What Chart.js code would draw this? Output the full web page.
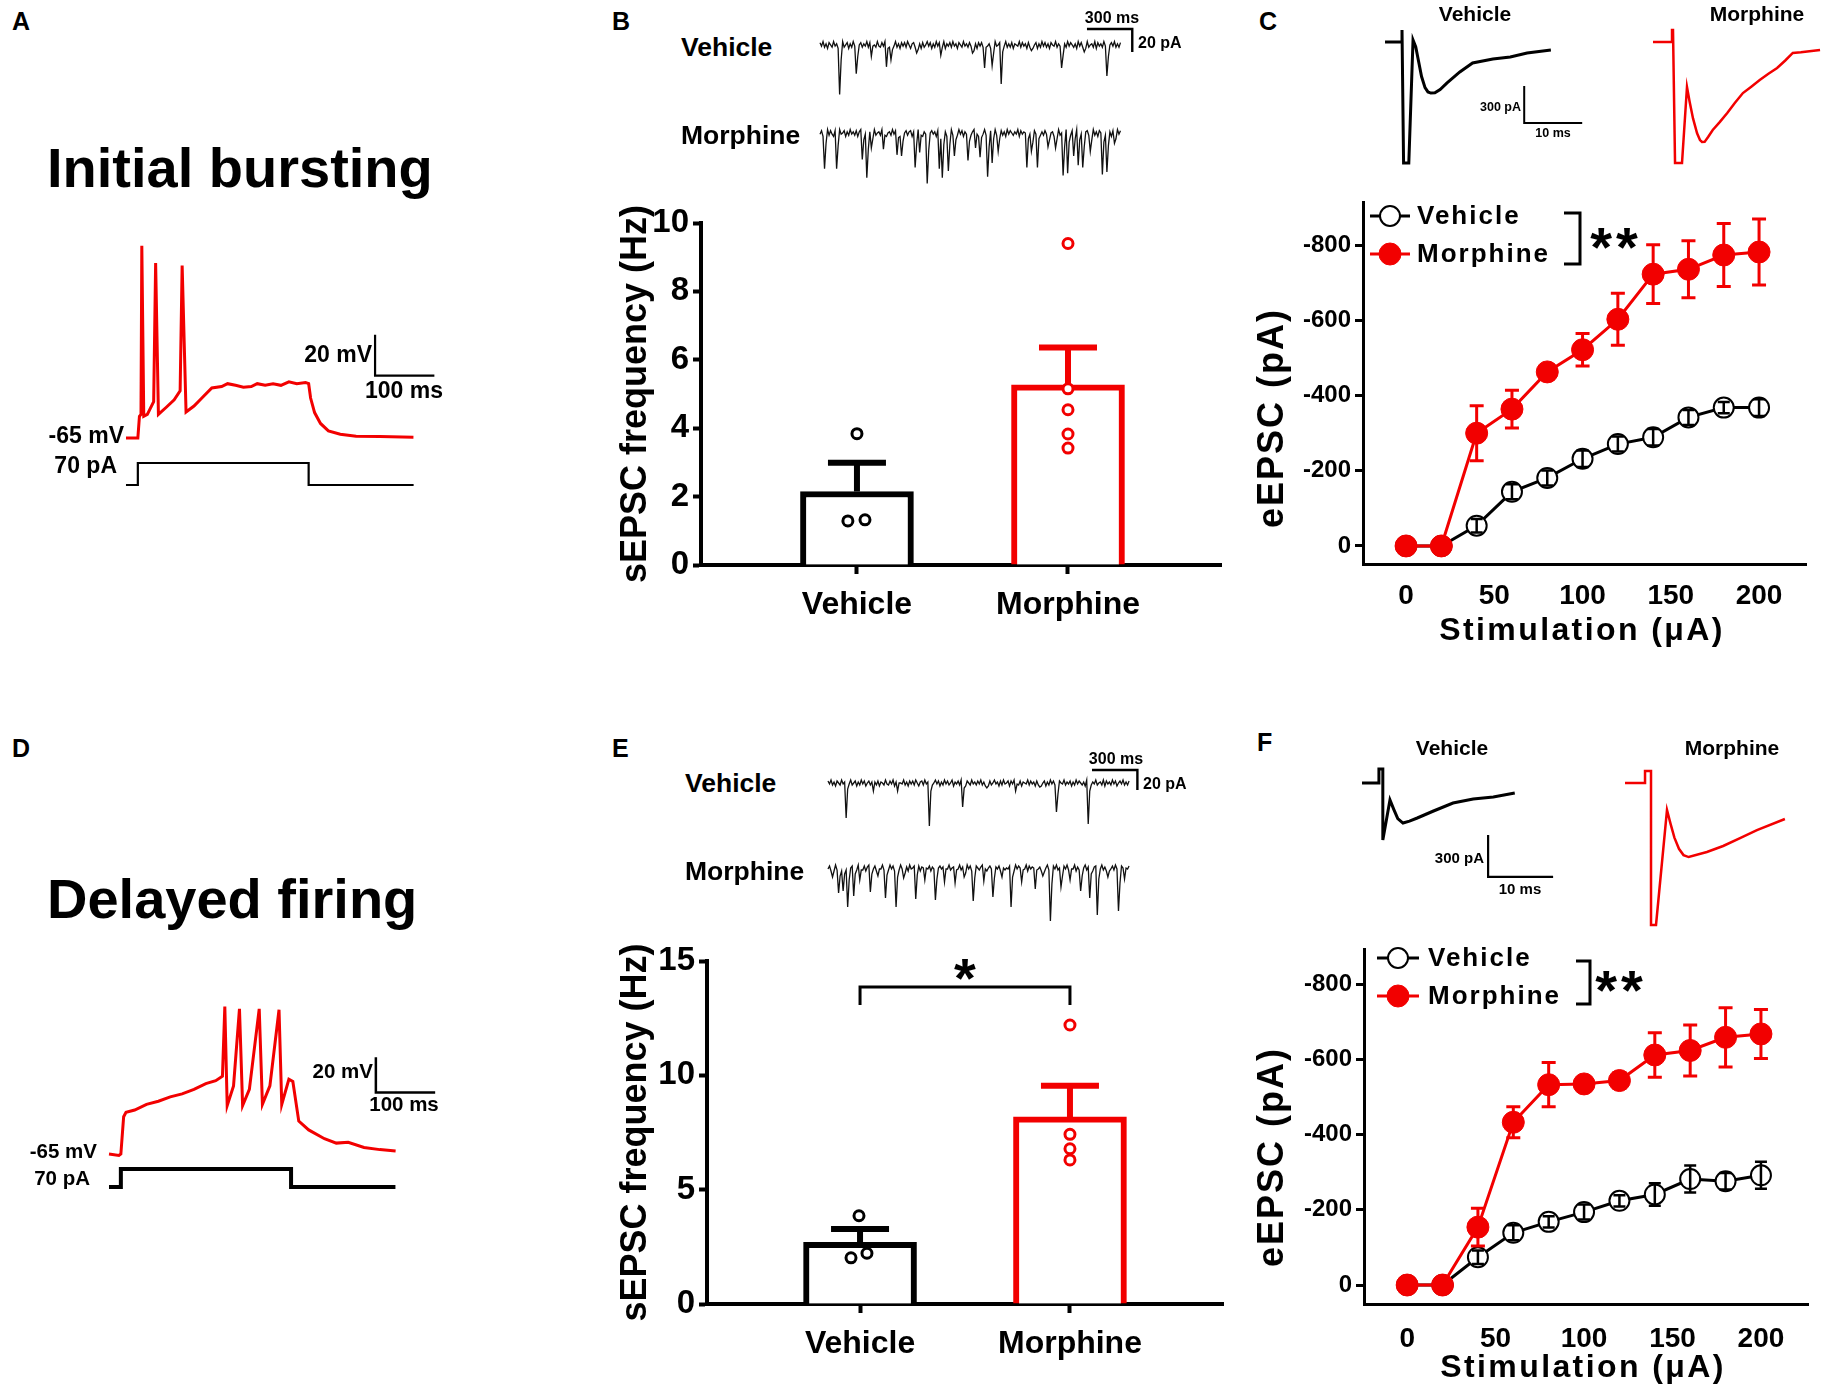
<!DOCTYPE html>
<html lang="en">
<head>
<meta charset="UTF-8">
<title>sEPSC / eEPSC after morphine</title>
<script src="https://cdn.jsdelivr.net/npm/chart.js@4.4.1/dist/chart.umd.min.js"></script>
<style>
  body { margin: 0; background: #fff; }
  #page { position: relative; width: 1845px; height: 1396px; overflow: hidden; background: #fff;
          font-family: 'Liberation Sans', Arial, sans-serif; font-weight: bold; color: #000; }
  #page canvas { position: absolute; }
  .lbl { position: absolute; white-space: nowrap; line-height: 1; }
</style>
</head>
<body>
<div id="page"></div>
<script>
// ---------------- data ----------------
const RED = '#f20000';

// A : initial bursting, membrane potential (ms, mV) and injected current (ms, pA)
const burstT = [0, 20, 22.7, 25.3, 26.7, 30, 36, 46.7, 50, 54.7, 68, 81.3, 91.3, 94.7, 101.3, 114.7, 128, 144.7, 161.3, 171.3,
                184.7, 198, 211.3, 221.3, 234.7, 248, 261.3, 274.7, 288, 302.7, 308, 311.3, 318, 328, 341.3, 361.3, 388, 428, 484.7];
const burstV = [-65, -65, -54.4, -53.5, 28.8, -54.4, -53.5, -47.3, 20.3, -53.5, -50, -46.4, -42, 19.1, -52.3, -49.4, -45.5, -40.6, -39.9, -38.5,
                -39.3, -40.2, -39.9, -38.5, -39.3, -38.5, -39.3, -37.6, -38.5, -37.9, -38.5, -45.5, -52.6, -57.9, -61.5, -63.2, -64.1, -64.3, -64.6];
const stepA_T = [0, 20, 20, 308, 308, 485];
const stepA_I = [0, 0, 70, 70, 0, 0];

// D : delayed firing
const delayT = [0, 16.7, 20, 24.7, 28.7, 43.3, 63.3, 83.3, 103.3, 123.3, 143.3, 163.3, 180, 191.3, 195.3, 199.3, 210, 220, 225.3, 236.7,
                253.3, 258.7, 271.3, 286.7, 291.3, 303.3, 310, 320, 336.7, 363.3, 383.3, 403.3, 430, 456.7, 483.3];
const delayV = [-65, -65.8, -65, -43.8, -41.3, -40, -36.8, -35, -32.5, -30.8, -28.3, -25, -23.3, -20.8, 18.8, -37.5, -26.3, 17.5, -37.5, -28.3,
                17.5, -36.8, -26.3, 17, -36.8, -22.5, -23.8, -46.3, -51.3, -56.3, -58.8, -58.3, -61.3, -62.5, -63.3];
const stepD_T = [0, 20, 20, 307, 307, 483];
const stepD_I = [0, 0, 70, 70, 0, 0];

// B / E : sEPSC recordings, pA, one sample every 10 ms
// baseline noise of the recordings
const noiseA = [2, -1, 3, -2, 1, -3, 2, 0, -2, 3, -1, 1, -3, 2, -1, 3, -2, 0, 2, -3,
                1, -2, 3, -1, 2, -3, 0, 2, -2, 1, -1, 3, -2, 2, -3, 1, 0, -2, 3, -1,
                -2, 2, -1, 3, -3, 1, -2, 2, 0, -1, 3, -2, 1, -3, 2, -1, 2, -2, 3, 0,
                -3, 1, 2, -2, 3, -1, 1, -3, 2, -2, 0, 3, -1, 2, -3, 1, -2, 3, -1, 2,
                -2, 0, 3, -3, 1, -1, 2, -2, 3, -1, 1, -3, 2, 0, -2, 3, -1, 1, -2, 2,
                -1, 3, -2, 1, -3, 2, -1, 2, -2, 0, 3, -1, 1, -3, 2, -2, 3, -1, 0, 2,
                -3, 2, -1, 3, -2, 1, -2, 2, -3, 1, 0, -1, 3, -2, 2, -1, 1, -3, 2, -2,
                3, -1, 0, 2, -3, 1, -2, 3, -1, 2, -2, 1, -3, 2, 0, -1, 3, -2, 1, -1,
                2, -3, 1, -2, 3, -1, 2, 0, -2, 1, -3, 3, -1, 2, -2, 1, -1, 3, -2, 0,
                1, -2, 3, -3, 2, -1, 1, -2, 3, -1, 2, -3, 0, 2, -1, 3, -2, 1, -2, 2];
const noiseB = [-1, 2, -3, 1, 0, 3, -2, 2, -1, -3, 2, 1, -2, 3, -1, 0, 2, -3, 1, -2,
                3, -1, 1, -2, 2, -3, 1, 3, -2, 0, -1, 2, -3, 1, 2, -1, 3, -2, 0, 1,
                -2, 3, -1, 2, -3, 0, 1, -2, 3, -1, 2, -2, 1, -3, 3, -1, 0, 2, -2, 1,
                2, -3, 1, 0, -2, 3, -1, 2, -3, 1, -1, 3, -2, 0, 2, -1, 1, -3, 2, -1,
                3, -2, 0, 1, -3, 2, -1, 3, -2, 1, 0, -2, 3, -1, 2, -3, 1, -1, 2, 0,
                -2, 1, 3, -1, 2, -3, 0, 2, -1, 3, -2, 1, -1, 2, -3, 1, 3, -2, 0, -1,
                2, -2, 1, -3, 3, -1, 2, 0, -2, 1, -1, 3, -3, 2, -1, 1, 0, -2, 3, -1,
                1, -3, 2, -1, 0, 3, -2, 1, -2, 2, -1, 3, -2, 0, 1, -3, 2, -1, 3, -2,
                0, 2, -1, 3, -3, 1, -2, 2, -1, 0, 3, -2, 1, -1, 2, -3, 1, 2, -2, 1,
                -1, 3, -2, 1, -3, 2, 0, -1, 2, -2, 3, -1, 1, -3, 2, 0, -2, 3, -1, 2];
// synaptic events: [sample, peak amplitude, amplitude on next sample] (pA)
const evB_veh = [[13, 45, 12], [24, 27, 7], [34, 7, 2], [44, 16, 4], [47, 15, 4], [64, 10, 3], [80, 7, 2], [101, 10, 3],
                 [109, 20, 5], [114, 20, 5], [120, 31, 8], [140, 8, 2], [160, 22, 6], [175, 7, 2], [190, 29, 7]];
const evB_mor = [[3, 32, 9], [11, 32, 9], [28, 21, 6], [31, 41, 11], [34, 15, 4], [42, 13, 4], [51, 17, 5], [54, 23, 6],
                 [63, 30, 8], [66, 16, 4], [71, 47, 13], [79, 30, 8], [81, 37, 10], [85, 35, 9], [89, 21, 6], [98, 26, 7],
                 [103, 12, 3], [106, 21, 6], [111, 39, 11], [114, 23, 6], [118, 16, 4], [137, 28, 8], [140, 17, 5], [144, 30, 8],
                 [151, 15, 4], [156, 15, 4], [161, 39, 11], [164, 32, 9], [168, 19, 5], [171, 26, 7], [174, 32, 9], [179, 17, 5],
                 [187, 35, 10], [190, 37, 10], [195, 9, 3]];
const evE_veh = [[12, 32, 8], [30, 7, 2], [46, 6, 2], [67, 40, 10], [89, 23, 6], [105, 7, 2], [124, 6, 2], [140, 7, 2],
                 [151, 30, 8], [172, 40, 10]];
const evE_mor = [[3, 10, 3], [7, 27, 7], [10, 25, 7], [13, 42, 11], [17, 25, 7], [21, 11, 3], [28, 22, 6], [33, 9, 3],
                 [38, 30, 8], [45, 39, 10], [50, 12, 3], [58, 29, 8], [64, 10, 3], [71, 35, 9], [77, 11, 3], [84, 12, 4],
                 [90, 9, 3], [96, 34, 9], [103, 12, 3], [109, 32, 8], [115, 10, 3], [121, 37, 10], [128, 12, 3], [137, 19, 5],
                 [142, 10, 3], [147, 54, 14], [154, 20, 5], [160, 12, 3], [167, 25, 7], [173, 29, 8], [178, 45, 12], [185, 11, 3],
                 [192, 44, 12], [196, 9, 3]];
const sampleMs = 10;

// B / E : sEPSC frequency (Hz)
const groups = ['Vehicle', 'Morphine'];
const freqB = [2.15, 5.27];
const freqB_sem = [0.84, 1.09];
const dotsB_veh = [3.84, 1.29, 1.32];
const dotsB_vehDx = [0, -0.043, 0.038];
const dotsB_mor = [9.4, 5.15, 4.54, 3.83, 3.42];
const dotsB_morDx = [0, 0, 0, 0, 0];
const freqE = [2.7, 8.18];
const freqE_sem = [0.58, 1.36];
const dotsE_veh = [3.86, 2.02, 2.22];
const dotsE_vehDx = [-0.005, -0.043, 0.033];
const dotsE_mor = [12.2, 7.42, 6.79, 6.3];
const dotsE_morDx = [0, 0, 0, 0];

// C / F : eEPSC amplitude (pA) vs stimulation (uA)
const stim = [0, 20, 40, 60, 80, 100, 120, 140, 160, 180, 200];
const eC_veh = [0, 0, -54, -144, -181, -232, -271, -289, -342, -368, -368];
const eC_vehSem = [0, 0, 18, 20, 20, 22, 20, 22, 20, 15, 22];
const eC_mor = [0, 0, -300, -364, -463, -522, -603, -723, -736, -774, -782];
const eC_morSem = [0, 0, 73, 50, 20, 43, 69, 78, 76, 84, 88];
const eF_veh = [0, 0, -74, -139, -168, -194, -224, -241, -282, -276, -292];
const eF_vehSem = [0, 0, 18, 20, 15, 20, 15, 30, 36, 22, 36];
const eF_mor = [0, 0, -154, -433, -533, -535, -544, -612, -624, -659, -668];
const eF_morSem = [0, 0, 50, 41, 59, 15, 20, 59, 68, 79, 65];
const stimTicks = [0, 50, 100, 150, 200];
const ampTicks = [0, -200, -400, -600, -800];

// C / F insets : example eEPSC traces (ms, pA)
const trC_vehT = [0, 2.93, 2.93, 3.2, 4.1, 4.83, 5.3, 5.8, 6.3, 6.9, 7.4, 7.9, 8.6, 9.5, 10.7, 12.9, 15.1, 18.6, 21.6, 24.5, 28.6];
const trC_vehI = [0, 0, 97, -981, -981, 16, -40, -160, -280, -370, -405, -414, -412, -385, -332, -243, -170, -138, -122, -89, -65];
const trC_morT = [0, 3.28, 3.28, 3.45, 3.8, 5.0, 5.86, 6.3, 6.9, 7.6, 8.1, 8.45, 8.9, 9.5, 10.3, 11.5, 12.8, 14.1, 15.5, 17.0, 18.4, 19.9, 21.4, 22.8, 24.1, 25.5, 28.8];
const trC_morI = [0, 0, 97, 97, -981, -981, -365, -480, -620, -740, -795, -811, -810, -770, -714, -650, -576, -495, -414, -360, -308, -258, -211, -150, -89, -84, -65];
const trF_vehT = [0, 2.6, 2.6, 3.2, 3.2, 4.3, 4.9, 5.5, 6.3, 7.3, 8.5, 11.0, 14.0, 17.1, 20.2, 23.5];
const trF_vehI = [0, 0, 100, 100, -407, -121, -190, -255, -286, -272, -250, -200, -143, -114, -100, -71];
const trF_morT = [0, 3.08, 3.08, 4.0, 4.0, 4.77, 6.46, 7.0, 7.6, 8.3, 9.0, 9.8, 12.6, 15.1, 17.7, 20.3, 24.6];
const trF_morI = [0, 0, 86, 86, -1014, -1014, -193, -290, -390, -470, -515, -529, -493, -450, -393, -336, -257];

// scale bars: corner (t, value) and lengths in data units
const sbarA = {t: 420, v: -34.6, dt: 100, dv: 20};
const sbarD = {t: 450, v: -30, dt: 100, dv: 20};
const sbarB = {t: 1768, v: 13.9, dt: 300, dv: 20};
const sbarE = {t: 1745, v: 13, dt: 300, dv: 20};
const sbarC = {t: 24, v: -657, dt: 10, dv: 300};
const sbarF = {t: 19.4, v: -671, dt: 10, dv: 300};

// ---------------- setup ----------------
Chart.defaults.font.family = "'Liberation Sans', Arial, sans-serif";
Chart.defaults.font.weight = 'bold';
Chart.defaults.color = '#000';
Chart.defaults.animation = false;
Chart.defaults.responsive = false;
Chart.defaults.events = [];
Chart.defaults.plugins.legend.display = false;
Chart.defaults.plugins.tooltip.enabled = false;

const page = document.getElementById('page');
function makeCanvas(l, t, w, h) {
  const c = document.createElement('canvas');
  c.width = w; c.height = h;
  c.style.left = l + 'px'; c.style.top = t + 'px';
  c.style.width = w + 'px'; c.style.height = h + 'px';
  page.appendChild(c);
  return c;
}
const pts = (xs, ys) => xs.map((x, i) => ({x, y: ys[i]}));
// recording = baseline noise with the listed events added on
function recording(noise, events) {
  const v = noise.slice();
  events.forEach(([i, peak, tail]) => { v[i] -= peak; v[i + 1] -= tail; });
  return v.map((y, i) => ({x: i * sampleMs, y}));
}
// L shaped bar: vertical on the left, horizontal at the bottom
const barL = (b) => [{x: b.t, y: b.v + b.dv}, {x: b.t, y: b.v}, {x: b.t + b.dt, y: b.v}];
// horizontal on top, vertical going down on the right
const barR = (b) => [{x: b.t, y: b.v}, {x: b.t + b.dt, y: b.v}, {x: b.t + b.dt, y: b.v - b.dv}];

function traceChart(box, axes, sets) {
  const scales = {};
  for (const k in axes) scales[k] = {type: 'linear', display: false, min: axes[k][0], max: axes[k][1]};
  return new Chart(makeCanvas(...box), {
    type: 'line',
    data: {datasets: sets.map(s => ({
      data: s.data,
      yAxisID: s.axis || 'y',
      borderColor: s.color || '#000',
      borderWidth: s.width || 1,
      pointRadius: 0, tension: 0, clip: false, fill: false
    }))},
    options: {layout: {padding: 0}, scales}
  });
}

// error bars from dataset.sem
const errBars = {
  id: 'errBars',
  afterDatasetsDraw(chart) {
    const ctx = chart.ctx;
    chart.data.datasets.forEach((ds, i) => {
      if (!ds.sem) return;
      const meta = chart.getDatasetMeta(i);
      const xs = chart.scales[meta.xAxisID], ys = chart.scales[meta.yAxisID];
      ctx.save();
      ctx.lineWidth = ds.errWidth;
      ds.data.forEach((p, j) => {
        const s = ds.sem[j];
        if (!s) return;
        ctx.strokeStyle = Array.isArray(ds.borderColor) ? ds.borderColor[j] : ds.borderColor;
        const dir = p.y < 0 ? -1 : 1;
        const x = xs.getPixelForValue(p.x);
        const yHi = ys.getPixelForValue(p.y + dir * s);
        const yLo = ds.errUpOnly ? ys.getPixelForValue(p.y) : ys.getPixelForValue(p.y - dir * s);
        ctx.beginPath();
        ctx.moveTo(x, yLo); ctx.lineTo(x, yHi);
        ctx.moveTo(x - ds.capHalf, yHi); ctx.lineTo(x + ds.capHalf, yHi);
        if (!ds.errUpOnly) { ctx.moveTo(x - ds.capHalf, yLo); ctx.lineTo(x + ds.capHalf, yLo); }
        ctx.stroke();
      });
      ctx.restore();
    });
  }
};

// significance bracket between the two groups
const sigBracket = {
  id: 'sigBracket',
  afterDatasetsDraw(chart, args, o) {
    if (!o || !o.text) return;
    const {ctx, scales: {x, y}} = chart;
    const x0 = x.getPixelForValue(o.from), x1 = x.getPixelForValue(o.to);
    const yt = y.getPixelForValue(o.top), yb = y.getPixelForValue(o.top - o.drop);
    ctx.save();
    ctx.lineWidth = 3; ctx.strokeStyle = '#000';
    ctx.beginPath();
    ctx.moveTo(x0, yb); ctx.lineTo(x0, yt); ctx.lineTo(x1, yt); ctx.lineTo(x1, yb);
    ctx.stroke();
    ctx.font = "bold 56px 'Liberation Sans', Arial, sans-serif";
    ctx.textAlign = 'center'; ctx.textBaseline = 'alphabetic'; ctx.fillStyle = '#000';
    const m = ctx.measureText(o.text);
    const cy = yt - o.gap;
    ctx.fillText(o.text, (x0 + x1) / 2, cy + (m.actualBoundingBoxAscent - m.actualBoundingBoxDescent) / 2);
    ctx.restore();
  }
};

// legend with line + marker, bracket and stars
const doseLegend = {
  id: 'doseLegend',
  afterDraw(chart, args, o) {
    const {ctx, chartArea: a} = chart;
    ctx.save();
    ctx.letterSpacing = '2px';
    chart.data.datasets.forEach((ds, i) => {
      const cx = a.left + o.dx, cy = a.top + o.dy + i * o.gap;
      ctx.strokeStyle = ds.borderColor; ctx.lineWidth = ds.borderWidth;
      ctx.beginPath(); ctx.moveTo(cx - o.half, cy); ctx.lineTo(cx + o.half, cy); ctx.stroke();
      ctx.fillStyle = ds.pointBackgroundColor; ctx.strokeStyle = ds.pointBorderColor; ctx.lineWidth = ds.pointBorderWidth;
      Chart.helpers.drawPoint(ctx, {pointStyle: 'circle', radius: ds.pointRadius, borderWidth: ds.pointBorderWidth}, cx, cy);
      ctx.fillStyle = '#000';
      ctx.font = "bold 26px 'Liberation Sans', Arial, sans-serif";
      ctx.textAlign = 'left'; ctx.textBaseline = 'middle';
      ctx.fillText(ds.label, a.left + o.tx, cy + 1);
    });
    ctx.strokeStyle = '#000'; ctx.lineWidth = 3;
    ctx.beginPath();
    ctx.moveTo(a.left + o.bx0, a.top + o.by0); ctx.lineTo(a.left + o.bx1, a.top + o.by0);
    ctx.lineTo(a.left + o.bx1, a.top + o.by1); ctx.lineTo(a.left + o.bx0, a.top + o.by1);
    ctx.stroke();
    ctx.letterSpacing = '4px';
    ctx.font = "bold 56px 'Liberation Sans', Arial, sans-serif";
    ctx.textAlign = 'center'; ctx.textBaseline = 'alphabetic';
    const m = ctx.measureText('**');
    ctx.fillText('**', a.left + o.sx, a.top + o.sy + (m.actualBoundingBoxAscent - m.actualBoundingBoxDescent) / 2);
    ctx.restore();
  }
};

function freqChart(box, area, xr, yMax, yStep, means, sems, dots, sig) {
  const [L, T, W, H] = box;
  const grid = {display: true, drawOnChartArea: false, drawTicks: true, tickLength: 8, tickWidth: 4, tickColor: '#000', offset: false};
  const border = {display: true, width: 4, color: '#000'};
  const dotSet = (g, d, col) => ({type: 'scatter', data: pts(d.dx.map(o => g + o), d.y), pointRadius: 5, pointBorderWidth: 3,
                                  pointBackgroundColor: '#fff', pointBorderColor: col, order: 1});
  return new Chart(makeCanvas(L, T, W, H), {
    type: 'bar',
    data: {datasets: [
      {type: 'bar', data: pts([0, 1], means), sem: sems, errUpOnly: true, capHalf: 29, errWidth: 6,
       backgroundColor: '#fff', borderColor: ['#000', RED], borderWidth: 6, barThickness: 113, order: 2},
      dotSet(0, dots[0], '#000'),
      dotSet(1, dots[1], RED)
    ]},
    options: {
      layout: {padding: {left: 0, top: area.top - T, right: L + W - area.right, bottom: 0}},
      scales: {
        x: {type: 'linear', min: xr[0], max: xr[1], offset: false, grid: {...grid, tickLength: 9}, border,
            afterBuildTicks: s => { s.ticks = groups.map((g, i) => ({value: i})); },
            afterFit: s => { s.height = T + H - area.bottom; },
            ticks: {callback: v => groups[v], font: {size: 32}, padding: 12, maxRotation: 0, autoSkip: false}},
        y: {type: 'linear', min: 0, max: yMax, grid, border,
            afterFit: s => { s.width = area.left - L; },
            ticks: {stepSize: yStep, font: {size: 33}, padding: 4},
            title: {display: true, text: 'sEPSC frequency (Hz)', font: {size: 36, weight: 'bold'}, padding: {top: 14, bottom: 0}}}
      },
      plugins: {sigBracket: sig || {}}
    },
    plugins: [errBars, sigBracket]
  });
}

function doseChart(box, area, veh, vehSem, mor, morSem, leg) {
  const [L, T, W, H] = box;
  return new Chart(makeCanvas(L, T, W, H), {
    type: 'line',
    data: {datasets: [
      {label: 'Vehicle', data: pts(stim, veh), sem: vehSem, capHalf: 6, errWidth: 2.5,
       borderColor: '#000', borderWidth: 3, pointRadius: 10, pointBorderWidth: 2,
       pointBackgroundColor: '#fff', pointBorderColor: '#000', tension: 0, clip: false, order: 2},
      {label: 'Morphine', data: pts(stim, mor), sem: morSem, capHalf: 7, errWidth: 3,
       borderColor: RED, borderWidth: 3, pointRadius: 11, pointBorderWidth: 1,
       pointBackgroundColor: RED, pointBorderColor: RED, tension: 0, clip: false, order: 1}
    ]},
    options: {
      layout: {padding: {left: 0, top: area.top - T, right: L + W - area.right, bottom: 0}},
      scales: {
        x: {type: 'linear', min: -24.4, max: 226.6, grid: {display: false}, border: {display: true, width: 3, color: '#000'},
            afterBuildTicks: s => { s.ticks = stimTicks.map(v => ({value: v})); },
            afterFit: s => { s.height = T + H - area.bottom; },
            ticks: {font: {size: 28}, padding: area.xPad, maxRotation: 0, autoSkip: false}},
        y: {type: 'linear', reverse: true, min: area.yMin, max: area.yMax,
            grid: {display: true, drawOnChartArea: false, tickLength: 8, tickWidth: 3, tickColor: '#000'},
            border: {display: true, width: 3, color: '#000'},
            afterBuildTicks: s => { s.ticks = ampTicks.map(v => ({value: v})); },
            afterFit: s => { s.width = area.left - L; },
            ticks: {font: {size: 24}, padding: 4}}
      },
      plugins: {doseLegend: leg}
    },
    plugins: [errBars, doseLegend]
  });
}

// ---------------- A / D : firing patterns ----------------
traceChart([100, 200, 360, 320], {x: [-43.8, 563.2], y: [-105, 51.1], yI: [-111.4, 906.8]}, [
  {data: pts(burstT, burstV), color: RED, width: 3},
  {data: pts(stepA_T, stepA_I), axis: 'yI', width: 2.2},
  {data: barL(sbarA), width: 2.2}
]);
traceChart([80, 980, 400, 240], {x: [-48.9, 625.6], y: [-102.5, 33.9], yI: [-128.4, 805.4]}, [
  {data: pts(delayT, delayV), color: RED, width: 3},
  {data: pts(stepD_T, stepD_I), axis: 'yI', width: 4},
  {data: barL(sbarD), width: 2.5}
]);

// ---------------- B / E : sEPSC traces ----------------
traceChart([800, 0, 400, 190], {x: [-132.5, 2516.6], y: [-126.1, 39.1], yM: [-49.6, 115.7]}, [
  {data: recording(noiseA, evB_veh), color: '#111', width: 1.3},
  {data: recording(noiseB, evB_mor), axis: 'yM', color: '#111', width: 1.3},
  {data: barR(sbarB), width: 2.4}
]);
traceChart([800, 735, 420, 205], {x: [-185, 2591], y: [-157, 48], yM: [-72, 133]}, [
  {data: recording(noiseA, evE_veh), color: '#111', width: 1.3},
  {data: recording(noiseB, evE_mor), axis: 'yM', color: '#111', width: 1.3},
  {data: barR(sbarE), width: 2.4}
]);

// ---------------- B / E : frequency bars ----------------
freqChart([600, 190, 640, 450], {left: 701, top: 223, right: 1221, bottom: 565}, [-0.739, 1.725], 10, 2,
  freqB, freqB_sem, [{dx: dotsB_vehDx, y: dotsB_veh}, {dx: dotsB_morDx, y: dotsB_mor}]);
freqChart([600, 930, 640, 466], {left: 707, top: 961, right: 1223, bottom: 1304}, [-0.729, 1.729], 15, 5,
  freqE, freqE_sem, [{dx: dotsE_vehDx, y: dotsE_veh}, {dx: dotsE_morDx, y: dotsE_mor}],
  {text: '*', from: 0, to: 1, top: 13.86, drop: 0.78, gap: 18});

// ---------------- C / F : eEPSC insets ----------------
traceChart([1370, 10, 230, 160], {x: [-2.59, 37.07], y: [-1038.1, 259.5]}, [
  {data: pts(trC_vehT, trC_vehI), width: 3},
  {data: barL(sbarC), width: 2}
]);
traceChart([1640, 10, 205, 160], {x: [-2.24, 33.1], y: [-1038.1, 259.5]}, [
  {data: pts(trC_morT, trC_morI), color: RED, width: 2.5}
]);
traceChart([1350, 750, 220, 185], {x: [-1.85, 32], y: [-1085.7, 235.7]}, [
  {data: pts(trF_vehT, trF_vehI), width: 3},
  {data: barL(sbarF), width: 2.2}
]);
traceChart([1610, 750, 230, 185], {x: [-2.31, 33.08], y: [-1085.7, 235.7]}, [
  {data: pts(trF_morT, trF_morI), color: RED, width: 2.5}
]);

// ---------------- C / F : input-output curves ----------------
doseChart([1240, 180, 605, 470], {left: 1363, top: 202, right: 1806, bottom: 564, yMin: -915, yMax: 48, xPad: 7},
  eC_veh, eC_vehSem, eC_mor, eC_morSem,
  {dx: 27, half: 20, tx: 54, dy: 14, gap: 38, bx0: 201, bx1: 217, by0: 11, by1: 62, sx: 253, sy: 36});
doseChart([1240, 930, 605, 466], {left: 1364, top: 949, right: 1808, bottom: 1304, yMin: -894, yMax: 50.5, xPad: 10},
  eF_veh, eF_vehSem, eF_mor, eF_morSem,
  {dx: 34, half: 21, tx: 64, dy: 9, gap: 38, bx0: 212, bx1: 226, by0: 12, by1: 55, sx: 257, sy: 32});

// ---------------- text ----------------
function addLabel(text, x, y, size, anchor, extra) {
  const d = document.createElement('div');
  d.className = 'lbl';
  d.textContent = text;
  d.style.left = x + 'px';
  d.style.top = y + 'px';
  d.style.fontSize = size + 'px';
  const tx = anchor === 'left' ? '0' : anchor === 'right' ? '-100%' : '-50%';
  d.style.transform = `translate(${tx},-50%)` + (extra && extra.rot ? ` rotate(${extra.rot}deg)` : '');
  if (extra && extra.spacing) d.style.letterSpacing = extra.spacing + 'px';
  page.appendChild(d);
}
const texts = [
  ['A', 12, 21, 25, 'left'], ['B', 612, 21, 25, 'left'], ['C', 1259, 21, 25, 'left'],
  ['D', 12, 748, 25, 'left'], ['E', 612, 748, 25, 'left'], ['F', 1257, 742, 25, 'left'],
  ['Initial bursting', 47, 168, 56, 'left'],
  ['Delayed firing', 47, 899, 56, 'left'],
  ['-65 mV', 124, 435, 23, 'right'], ['70 pA', 117, 465, 23, 'right'],
  ['20 mV', 372, 354, 23, 'right'], ['100 ms', 404, 390, 23, 'center'],
  ['-65 mV', 97, 1151, 20.5, 'right'], ['70 pA', 90, 1178, 20.5, 'right'],
  ['20 mV', 373, 1071, 20.5, 'right'], ['100 ms', 404, 1104, 20.5, 'center'],
  ['Vehicle', 681, 47, 26.5, 'left'], ['Morphine', 681, 135, 26.5, 'left'],
  ['300 ms', 1112, 18, 16, 'center'], ['20 pA', 1138, 43, 16, 'left'],
  ['Vehicle', 685, 783, 26.5, 'left'], ['Morphine', 685, 871, 26.5, 'left'],
  ['300 ms', 1116, 759, 16, 'center'], ['20 pA', 1143, 784, 16, 'left'],
  ['Vehicle', 1475, 13, 21, 'center'], ['Morphine', 1757, 13, 21, 'center'],
  ['300 pA', 1521, 107, 12.5, 'right'], ['10 ms', 1553, 133, 12.5, 'center'],
  ['Vehicle', 1452, 747, 21, 'center'], ['Morphine', 1732, 747, 21, 'center'],
  ['300 pA', 1484, 857, 15, 'right'], ['10 ms', 1520, 888, 15, 'center']
];
texts.forEach(t => addLabel(...t));
addLabel('eEPSC (pA)', 1271, 418, 36, 'center', {rot: -90, spacing: 2});
addLabel('eEPSC (pA)', 1271, 1157, 36, 'center', {rot: -90, spacing: 2});
addLabel('Stimulation (\u03bcA)', 1582, 629, 32, 'center', {spacing: 2.4});
addLabel('Stimulation (\u03bcA)', 1583, 1366, 32, 'center', {spacing: 2.4});
</script>
</body>
</html>
